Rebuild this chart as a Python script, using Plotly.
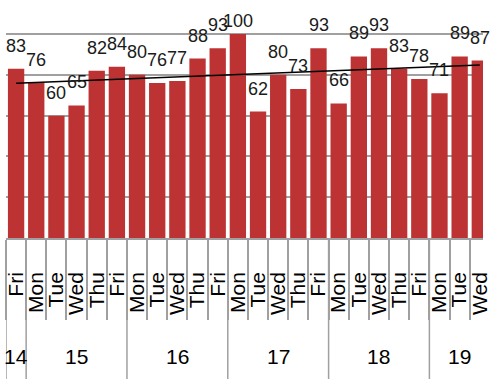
import numpy as np
import plotly.graph_objects as go

weeks = ["14", "15", "15", "15", "15", "15", "16", "16", "16", "16", "16",
         "17", "17", "17", "17", "17", "18", "18", "18", "18", "18", "19", "19", "19"]
days = ["Fri", "Mon", "Tue", "Wed", "Thu", "Fri", "Mon", "Tue", "Wed", "Thu", "Fri",
        "Mon", "Tue", "Wed", "Thu", "Fri", "Mon", "Tue", "Wed", "Thu", "Fri", "Mon", "Tue", "Wed"]
values = [83, 76, 60, 65, 82, 84, 80, 76, 77, 88, 93, 100,
          62, 80, 73, 93, 66, 89, 93, 83, 78, 71, 89, 87]

n = len(values)
idx = np.arange(n)
slope, intercept = np.polyfit(idx, values, 1)
trend = slope * idx + intercept

W, H = 491, 379
ml, mr, mt, mb = 6, 0, 0, 141
plot_w = W - ml - mr
plot_h = H - mt - mb
cat_px = 20.5
ymax = 116.7
ppu = plot_h / ymax
axis_grey = "#a0a0a0"

fig = go.Figure()
fig.add_trace(go.Bar(
    x=idx, y=values,
    marker=dict(color="#bd3333", line=dict(width=0)),
    hoverinfo="skip",
))
fig.add_trace(go.Scatter(
    x=idx, y=trend, mode="lines",
    line=dict(color="black", width=1.6),
    hoverinfo="skip",
))

# data labels
top_limit_px = 205
for i, v in enumerate(values):
    shift = min(11, top_limit_px - v * ppu)
    fig.add_annotation(
        x=i, y=v, xref="x", yref="y", text=str(v), showarrow=False,
        yanchor="bottom", yshift=shift,
        font=dict(family="Liberation Sans", size=18, color="#1a1a1a"),
    )

# week groups: labels + dividers
groups = []
for i, w in enumerate(weeks):
    if not groups or groups[-1][0] != w:
        groups.append([w, i, i])
    else:
        groups[-1][2] = i
bottom = -(H - mt - plot_h) / plot_h
label_y = -(356 - plot_h) / plot_h
for w, s, e in groups:
    fig.add_shape(type="line", xref="x", yref="paper",
                  x0=s - 0.5, x1=s - 0.5, y0=0, y1=bottom,
                  line=dict(color=axis_grey, width=1.5))
    fig.add_annotation(x=(s + e) / 2, y=label_y, xref="x", yref="paper",
                       text=w, showarrow=False, yanchor="middle",
                       font=dict(family="Liberation Sans", size=21, color="black"))

fig.update_layout(
    width=W, height=H,
    margin=dict(l=ml, r=mr, t=mt, b=mb, pad=0),
    paper_bgcolor="white", plot_bgcolor="white",
    showlegend=False, bargap=0.19,
    font=dict(family="Liberation Sans", color="black"),
)
fig.update_xaxes(
    range=[-0.5, -0.5 + plot_w / cat_px],
    tickmode="array", tickvals=idx, ticktext=days,
    ticks="", tickangle=-90, tickfont=dict(size=21, color="black"),
    ticklabelstandoff=24, ticklabeloverflow="allow",
    showline=True, linecolor=axis_grey, linewidth=1.5,
    minor=dict(tickmode="array", tickvals=np.append(idx - 0.5, n - 0.5),
               ticks="outside", ticklen=80, tickcolor=axis_grey, tickwidth=1.5,
               showgrid=False),
    showgrid=False, zeroline=False,
)
fig.update_yaxes(
    range=[0, ymax], showticklabels=False, showline=False,
    showgrid=True, gridcolor=axis_grey, gridwidth=1.5,
    dtick=20, zeroline=False,
)

fig.write_html("out.html")
